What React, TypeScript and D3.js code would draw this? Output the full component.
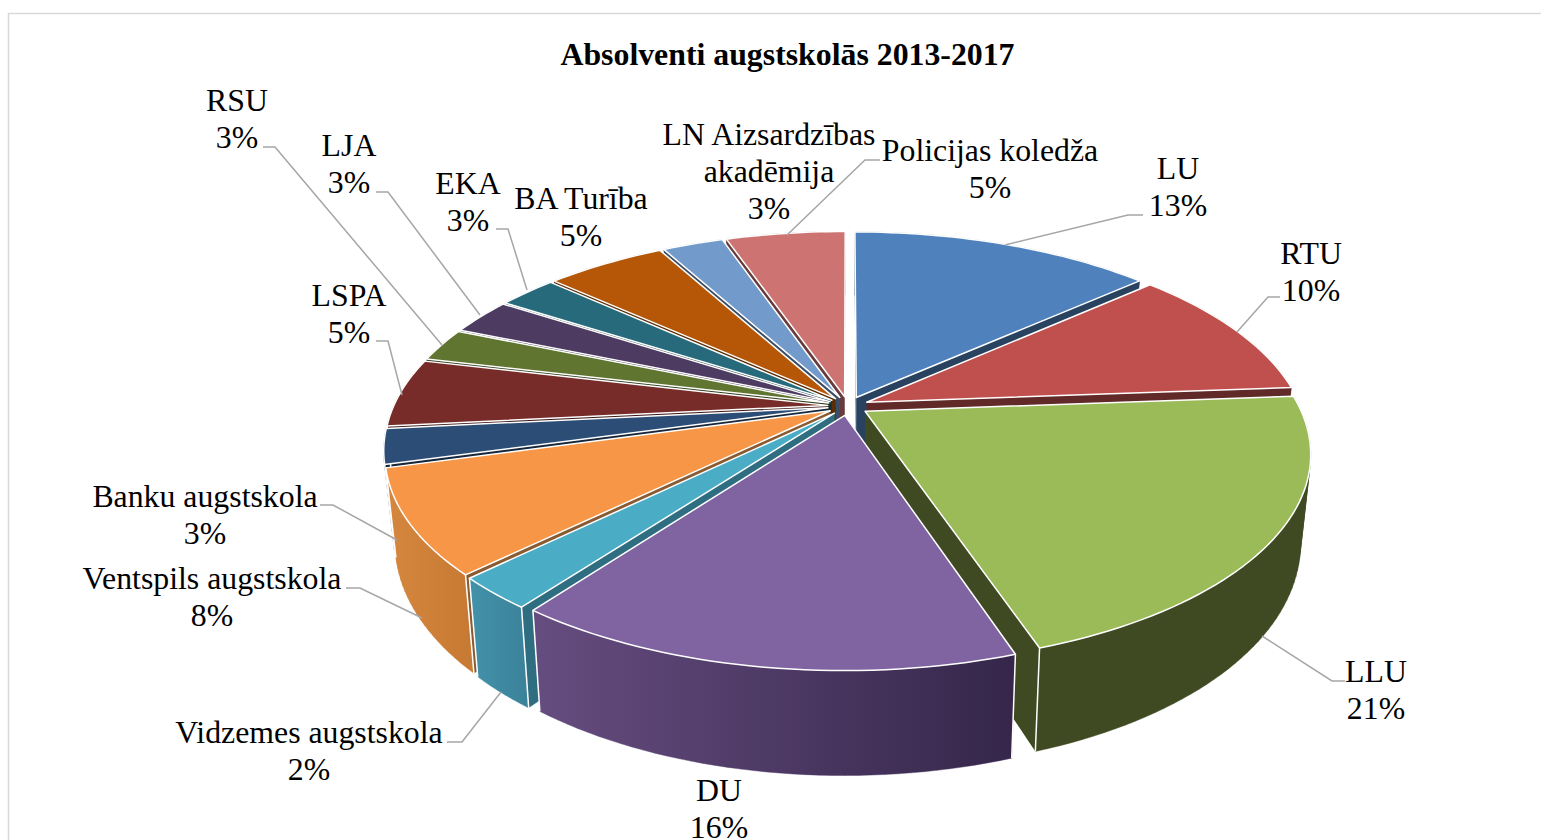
import React from "react";
import * as d3 from "d3";

const categories = ["LU","RTU","LLU","DU","Vidzemes augstskola","Ventspils augstskola","Banku augstskola","LSPA","RSU","LJA","EKA","BA Turība","LN Aizsardzības akadēmija","Policijas koledža"];
const shares = [13.4,10.4,21.05,15.35,2.5,8.0,2.7,5.3,2.6,2.8,2.6,5.3,2.7,5.3];
const percentLabels = ["13%","10%","21%","16%","2%","8%","3%","5%","3%","3%","3%","5%","3%","5%"];
const labelLines = [["LU"],["RTU"],["LLU"],["DU"],["Vidzemes augstskola"],["Ventspils augstskola"],["Banku augstskola"],["LSPA"],["RSU"],["LJA"],["EKA"],["BA Turība"],["LN Aizsardzības","akadēmija"],["Policijas koledža"]];
const colors = ["#4F81BD","#C0504D","#9BBB59","#8064A2","#4BACC6","#F79646","#2C4D75","#772C2A","#5F7530","#4D3B62","#276A7C","#B65708","#729ACA","#CD7371"];
const sideColors: Record<number,[string,string]> = {2:["#3f4a22","#3f4a22"],3:["#664d80","#35264a"],4:["#4292aa","#3b8299"],5:["#d6873f","#c67932"]};
const labelPos = [[1178,178.5],[1311,263.5],[1376,681.5],[719,800.5],[309,742.5],[212,588.5],[205,506.5],[349,305.5],[237,110.5],[349,155.5],[468,193.5],[581,208.5],[769,144.5],[990,160.5]];
const leaders = [
 [[1005,245],[1128,215],[1143,215]],[[1237,332],[1268,297],[1280,297]],[[1262,636],[1332,681],[1345,681]],null,
 [[501,692],[462,742],[447,742]],[[422,618],[360,588],[346,588]],[[397,540],[333,505],[320,505]],[[402,395],[388,341],[376,341]],
 [[442,345],[275,147],[263,147]],[[480,315],[388,192],[376,192]],[[527,290],[508,229],[496,229]],null,null,[[787,235],[865,160],[880,160]],
];

const W=1541,H=840,CX=848,CY=406,R=434,S=201,P=0.196,EXPL=0.047;
type Pt=[number,number];
const project=(u:number,v:number):Pt=>{const w=1-P*v;return [CX+R*u/w,CY+S*v/w];};
const lower=(u:number,v:number):Pt=>{const [x,y]=project(u,v);return [CX+(x-CX)*0.978,y+84+20*v];};
const line=d3.line<Pt>().x(d=>d[0]).y(d=>d[1]);
const arcs=d3.pie<number>().sort(null).value(d=>d)(shares);

const slices=arcs.map((a,i)=>{
  const mid=(a.startAngle+a.endAngle)/2;
  const ou=EXPL*Math.sin(mid),ov=-EXPL*Math.cos(mid);
  const n=Math.max(4,Math.ceil((a.endAngle-a.startAngle)*40));
  const rim=d3.range(n+1).map(k=>{const t=a.startAngle+(a.endAngle-a.startAngle)*k/n;return [ou+Math.sin(t),ov-Math.cos(t)] as Pt;});
  const top=rim.map(p=>project(p[0],p[1]));
  const bot=rim.map(p=>lower(p[0],p[1]));
  const at=project(ou,ov),ab=lower(ou,ov);
  const side=d3.range(n).map(k=>{
    const q:Pt[]=[top[k],top[k+1],bot[k+1],bot[k]];
    if(d3.polygonArea(q)<0)q.reverse();
    return line(q)+"Z";
  }).join("");
  return {i,order:ov-Math.cos(mid),top,bot,at,ab,side,v0:rim[0][1],v1:rim[n][1]};
}).sort((a,b)=>a.order-b.order);

export default function App(){
  return <svg width={W} height={H} style={{position:"absolute",left:0,top:0,background:"#fff"}}>
    <defs>{Object.entries(sideColors).map(([k,c])=><linearGradient key={k} id={`g${k}`} x1="0" x2="1" y1="0" y2="0"><stop offset="0" stopColor={c[0]}/><stop offset="1" stopColor={c[1]}/></linearGradient>)}</defs>
    <rect x={8.5} y={13.5} width={1560} height={900} fill="#fff" stroke="#d9d9d9" strokeWidth={1.5}/>
    <text x={787.5} y={64.5} textAnchor="middle" fontFamily="'Liberation Serif'" fontWeight="bold" fontSize={31.8}>Absolventi augstskolās 2013-2017</text>
    {slices.map(s=>{
      const dark=d3.rgb(colors[s.i]).darker(1.9).formatHex();
      const sc=sideColors[s.i];
      const rad=sc?sc[1]:dark;
      const radStart=s.i===4?"#2f6d80":s.i===5?"#8a5a30":(s.i===2?"#3f4a22":dark);
      const first=s.top[0],last=s.top[s.top.length-1],bf=s.bot[0],bl=s.bot[s.bot.length-1];
      return <g key={s.i}>
        <path d={line([s.at,first,bf,s.ab])+"Z"} fill={radStart}/>
        <path d={line([s.at,last,bl,s.ab])+"Z"} fill={s.i===3?"#664d80":s.i===4?"#2f6d80":radStart}/>
        <path d={s.side} fill={sc?`url(#g${s.i})`:rad} stroke={sc?`url(#g${s.i})`:rad} strokeWidth={0.4}/>
        {s.v0>0&&<path d={line([first,bf])!} stroke="#fff" strokeWidth={1.5} fill="none"/>}
        {s.v1>0&&<path d={line([last,bl])!} stroke="#fff" strokeWidth={1.5} fill="none"/>}
        <path d={line([s.at,...s.top])+"Z"} fill={colors[s.i]} stroke="#fff" strokeWidth={1.5} strokeLinejoin="round"/>
      </g>;
    })}
    {leaders.map((l,i)=>l&&<path key={i} d={line(l as Pt[])!} fill="none" stroke="#a6a6a6" strokeWidth={1.5}/>)}
    {categories.map((c,i)=>{
      const ls=[...labelLines[i],percentLabels[i]];
      return <text key={c} fontFamily="'Liberation Serif'" fontSize={31.8} textAnchor="middle" fill="#000">
        {ls.map((t,k)=><tspan key={k} x={labelPos[i][0]} y={labelPos[i][1]+k*37}>{t}</tspan>)}
      </text>;
    })}
  </svg>;
}
